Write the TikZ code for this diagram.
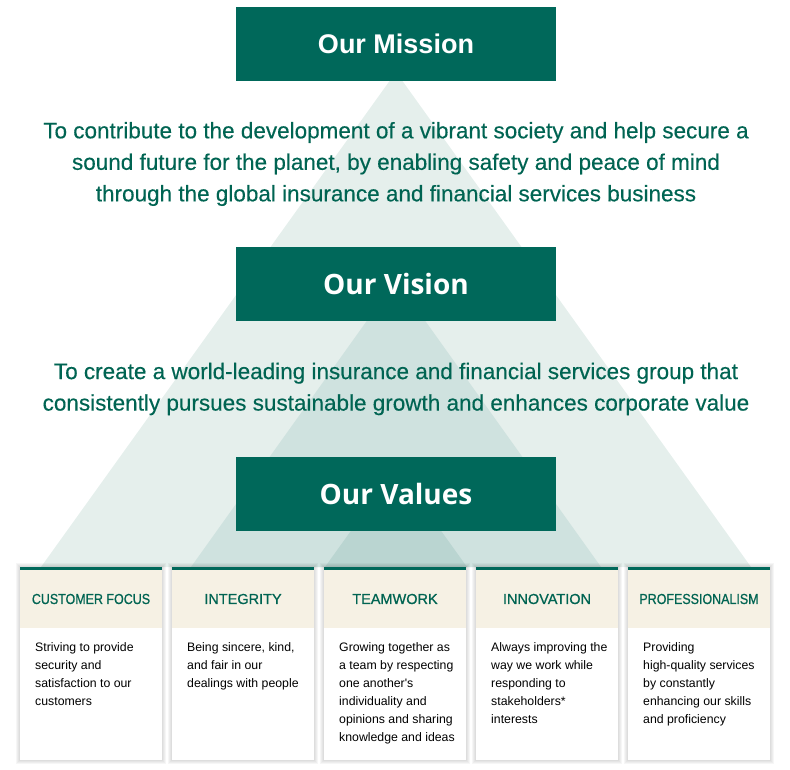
\documentclass[tikz,border=0pt]{standalone}
\usepackage{fontspec}
\setmainfont{Liberation Sans}
\newfontfamily\vtitlefont{Open Sans}
\newfontfamily\medfont[FakeBold=0.8]{Liberation Sans}
\newfontfamily\leadfont[FakeBold=0.3]{Liberation Sans}
\definecolor{boxgreen}{RGB}{0,104,90}
\definecolor{txtgreen}{RGB}{0,100,82}
\definecolor{triA}{RGB}{229,239,236}
\definecolor{triB}{RGB}{207,226,223}
\definecolor{triC}{RGB}{186,213,209}
\definecolor{headbeige}{RGB}{246,241,228}
\newcommand{\narrow}[1]{\scalebox{0.86}[1]{#1}}

\begin{document}
\begin{tikzpicture}[x=1pt,y=-1pt,
  titlebox/.style={fill=boxgreen,text=white,minimum width=320pt,minimum height=74pt,inner sep=0pt},
  leadtext/.style={text=txtgreen,align=center,font=\fontsize{22.5}{31.5}\leadfont},
  cardhead/.style={text=txtgreen,font=\fontsize{14.5}{17}\medfont,inner sep=0pt},
  cardbody/.style={text=black,align=left,font=\fontsize{12.3}{18}\selectfont,inner sep=0pt,anchor=north west}]
 \useasboundingbox (0,0) rectangle (790,770);
 \fill[triA] (396,72) -- (41,567) -- (751,567) -- cycle;
 \fill[triB] (396,280) -- (191,567) -- (601,567) -- cycle;
 \fill[triC] (396,468) -- (325,567) -- (467,567) -- cycle;

 \node[titlebox,font=\fontsize{27}{30}\selectfont\bfseries] (mission) at (396,44) {Our Mission};
 \node[leadtext] (missiontext) at (396,164) {To contribute to the development of a vibrant society and help secure a\\
   sound future for the planet, by enabling safety and peace of mind\\
   through the global insurance and financial services business};

 \node[titlebox,font=\fontsize{28}{30}\vtitlefont\bfseries] (vision) at (396,284) {Our Vision};
 \node[leadtext] (visiontext) at (396,389) {To create a world-leading insurance and financial services group that\\
   consistently pursues sustainable growth and enhances corporate value};

 \node[titlebox,font=\fontsize{28}{30}\vtitlefont\bfseries] (values) at (396,494) {Our Values};

 \foreach \i/\x/\head/\body in {
   1/20/{\narrow{CUSTOMER FOCUS}}/{Striving to provide\\ security and\\ satisfaction to our\\ customers},
   2/172/{INTEGRITY}/{Being sincere, kind,\\ and fair in our\\ dealings with people},
   3/324/{TEAMWORK}/{Growing together as\\ a team by respecting\\ one another\textquotesingle s\\ individuality and\\ opinions and sharing\\ knowledge and ideas},
   4/476/{INNOVATION}/{Always improving the\\ way we work while\\ responding to\\ stakeholders*\\ interests},
   5/628/{\narrow{PROFESSIONALISM}}/{Providing\\ high-quality services\\ by constantly\\ enhancing our skills\\ and proficiency}} {
   \foreach \k in {1,...,4}
     \fill[black,opacity=0.035] (\x-\k,567-\k) rectangle (\x+142+\k,760+\k);
   \fill[white] (\x,567) rectangle (\x+142,760);
   \fill[headbeige] (\x,570) rectangle (\x+142,628);
   \fill[boxgreen] (\x,567) rectangle (\x+142,570);
   \node[cardhead] (head\i) at (\x+71,599) {\head};
   \node[cardbody] (body\i) at (\x+15,642) {\body};
 }
\end{tikzpicture}
\end{document}
